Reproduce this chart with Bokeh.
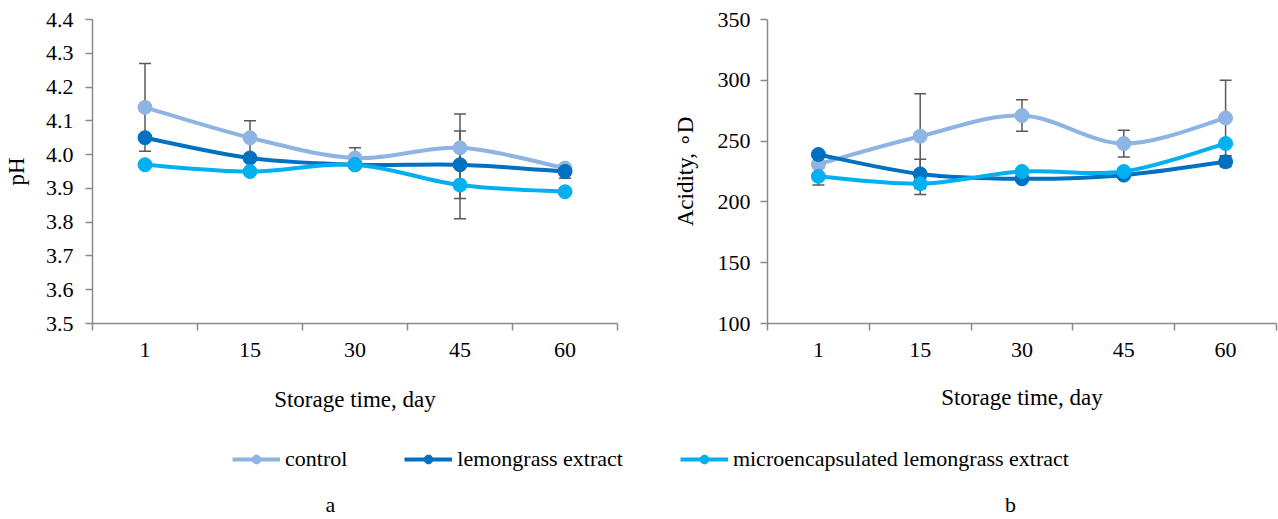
from bokeh.plotting import figure
from bokeh.models import (Range1d, FixedTicker, NumeralTickFormatter, ColumnDataSource,
                          Whisker, TeeHead, Legend, LegendItem, Label)
from bokeh.layouts import column, row
from bokeh.embed import file_html
from bokeh.resources import INLINE

# ---------------- data ----------------
days = ["1", "15", "30", "45", "60"]
series_names = ["control", "lemongrass extract", "microencapsulated lemongrass extract"]
series_colors = ["#8EB4E3", "#0070C0", "#00B0F0"]

ph_control = [4.14, 4.05, 3.99, 4.02, 3.96]
ph_lemongrass = [4.05, 3.99, 3.97, 3.97, 3.95]
ph_micro = [3.97, 3.95, 3.97, 3.91, 3.89]
ph_err_control = [0.13, 0.05, 0.03, 0.10, 0.0]
ph_err_lemongrass = [0.0, 0.0, 0.0, 0.10, 0.02]
ph_err_micro = [0.0, 0.0, 0.0, 0.10, 0.0]
ph_ticks = [3.5, 3.6, 3.7, 3.8, 3.9, 4.0, 4.1, 4.2, 4.3, 4.4]

ac_control = [231, 254, 271, 248, 269]
ac_lemongrass = [239, 223, 219, 222, 233]
ac_micro = [221, 215, 225, 225, 248]
ac_err_control = [0, 35, 13, 11, 31]
ac_err_lemongrass = [0, 12, 0, 0, 4]
ac_err_micro = [7, 9, 0, 3, 0]
ac_ticks = [100, 150, 200, 250, 300, 350]

FONT = "Liberation Serif"
AXIS_COLOR = "#8a8a8a"
ERR_COLOR = "#595959"


def bezier_segments(xs, ys):
    """Control points for a smooth curve through the data points (Catmull-Rom style)."""
    n = len(xs)
    out = dict(x0=[], y0=[], x1=[], y1=[], cx0=[], cy0=[], cx1=[], cy1=[])
    for i in range(n - 1):
        xp, yp = (xs[i - 1], ys[i - 1]) if i > 0 else (xs[i], ys[i])
        xn, yn = (xs[i + 2], ys[i + 2]) if i + 2 < n else (xs[i + 1], ys[i + 1])
        out["x0"].append(xs[i]); out["y0"].append(ys[i])
        out["x1"].append(xs[i + 1]); out["y1"].append(ys[i + 1])
        out["cx0"].append(xs[i] + (xs[i + 1] - xp) / 6.0)
        out["cy0"].append(ys[i] + (ys[i + 1] - yp) / 6.0)
        out["cx1"].append(xs[i + 1] - (xn - xs[i]) / 6.0)
        out["cy1"].append(ys[i + 1] - (yn - ys[i]) / 6.0)
    return out


def make_chart(width, height, border_left, border_right, border_bottom, yrange, yticks, yfmt,
               ylabel, values, errors, ylabel_standoff, ylabel_major_standoff, xlabel_standoff):
    xs = [i + 0.5 for i in range(len(days))]
    p = figure(width=width, height=height, output_backend="svg", toolbar_location=None,
               x_range=Range1d(0, len(days)), y_range=Range1d(*yrange),
               min_border_left=border_left, min_border_right=border_right,
               min_border_top=19, min_border_bottom=border_bottom)
    p.outline_line_color = None
    p.grid.visible = False
    p.background_fill_color = "white"
    p.border_fill_color = "white"

    # x axis: labels at category centres, tick marks at category boundaries
    xa = p.xaxis[0]
    xa.ticker = FixedTicker(ticks=xs, minor_ticks=list(range(len(days) + 1)))
    xa.major_label_overrides = {x: d for x, d in zip(xs, days)}
    xa.major_tick_out = 0
    xa.major_tick_in = 0
    xa.minor_tick_out = 7
    xa.minor_tick_in = 0
    xa.minor_tick_line_color = AXIS_COLOR
    xa.minor_tick_line_width = 1.5
    xa.axis_label = "Storage time, day"
    xa.axis_label_standoff = xlabel_standoff
    xa.major_label_standoff = 12

    ya = p.yaxis[0]
    ya.ticker = FixedTicker(ticks=yticks, minor_ticks=[])
    ya.formatter = NumeralTickFormatter(format=yfmt)
    ya.major_tick_out = 7
    ya.major_tick_in = 0
    ya.major_tick_line_color = AXIS_COLOR
    ya.major_tick_line_width = 1.5
    ya.axis_label = ylabel
    ya.axis_label_standoff = ylabel_standoff
    ya.major_label_standoff = ylabel_major_standoff

    for ax in (xa, ya):
        ax.axis_line_color = AXIS_COLOR
        ax.axis_line_width = 1.5
        ax.major_label_text_font = FONT
        ax.major_label_text_font_size = "22px"
        ax.major_label_text_color = "black"
        ax.axis_label_text_font = FONT
        ax.axis_label_text_font_size = "23px"
        ax.axis_label_text_font_style = "normal"
        ax.axis_label_text_color = "black"

    # error bars
    for vals, errs in zip(values, errors):
        bx = [x for x, e in zip(xs, errs) if e > 0]
        up = [v + e for v, e in zip(vals, errs) if e > 0]
        lo = [v - e for v, e in zip(vals, errs) if e > 0]
        src = ColumnDataSource(dict(x=bx, upper=up, lower=lo))
        w = Whisker(base="x", upper="upper", lower="lower", source=src, level="underlay",
                    line_color=ERR_COLOR, line_width=1.5,
                    upper_head=TeeHead(size=12, line_color=ERR_COLOR, line_width=1.5),
                    lower_head=TeeHead(size=12, line_color=ERR_COLOR, line_width=1.5))
        p.add_layout(w)

    # smoothed lines + markers
    for vals, col in zip(values, series_colors):
        seg = ColumnDataSource(bezier_segments(xs, vals))
        p.bezier(x0="x0", y0="y0", x1="x1", y1="y1", cx0="cx0", cy0="cy0", cx1="cx1", cy1="cy1",
                 source=seg, line_color=col, line_width=4)
        p.scatter(xs, vals, size=14, marker="circle", fill_color=col, line_color=col)
    return p


p1 = make_chart(668, 420, 92, 51, 95, (3.5, 4.4), ph_ticks, "0.0", "pH",
                [ph_control, ph_lemongrass, ph_micro],
                [ph_err_control, ph_err_lemongrass, ph_err_micro], 14, 12, 27)
p2 = make_chart(610, 420, 99, 2, 97, (100, 350), ac_ticks, "0", "Acidity, \u2218D",
                [ac_control, ac_lemongrass, ac_micro],
                [ac_err_control, ac_err_lemongrass, ac_err_micro], 17, 10, 25)

# legend + panel letters
p3 = figure(width=1278, height=99, output_backend="svg", toolbar_location=None,
            x_range=Range1d(0, 1), y_range=Range1d(0, 1),
            min_border=0, min_border_left=0, min_border_right=0,
            min_border_top=0, min_border_bottom=0)
p3.axis.visible = False
p3.grid.visible = False
p3.outline_line_color = None

nan = float("nan")
items = []
for name, col in zip(series_names, series_colors):
    lr = p3.line(x=[nan], y=[nan], line_color=col, line_width=4)
    sr = p3.scatter(x=[nan], y=[nan], size=11, marker="circle", fill_color=col, line_color=col)
    items.append(LegendItem(label=name, renderers=[lr, sr]))

legend = Legend(items=items, orientation="horizontal", location=(232, 47),
                glyph_width=48, glyph_height=22, label_standoff=5, spacing=57,
                padding=0, margin=0, border_line_color=None, background_fill_alpha=0,
                label_text_font=FONT, label_text_font_size="22px", label_text_color="black")
p3.add_layout(legend)

for txt, xpos in (("a", 330), ("b", 1010)):
    p3.add_layout(Label(x=xpos, y=15, x_units="screen", y_units="screen", text=txt,
                        text_font=FONT, text_font_size="22px", text_align="center",
                        text_baseline="middle", text_color="black"))

layout = column(row(p1, p2, spacing=0), p3, spacing=0)

open("out.html", "w").write(file_html(layout, INLINE))
